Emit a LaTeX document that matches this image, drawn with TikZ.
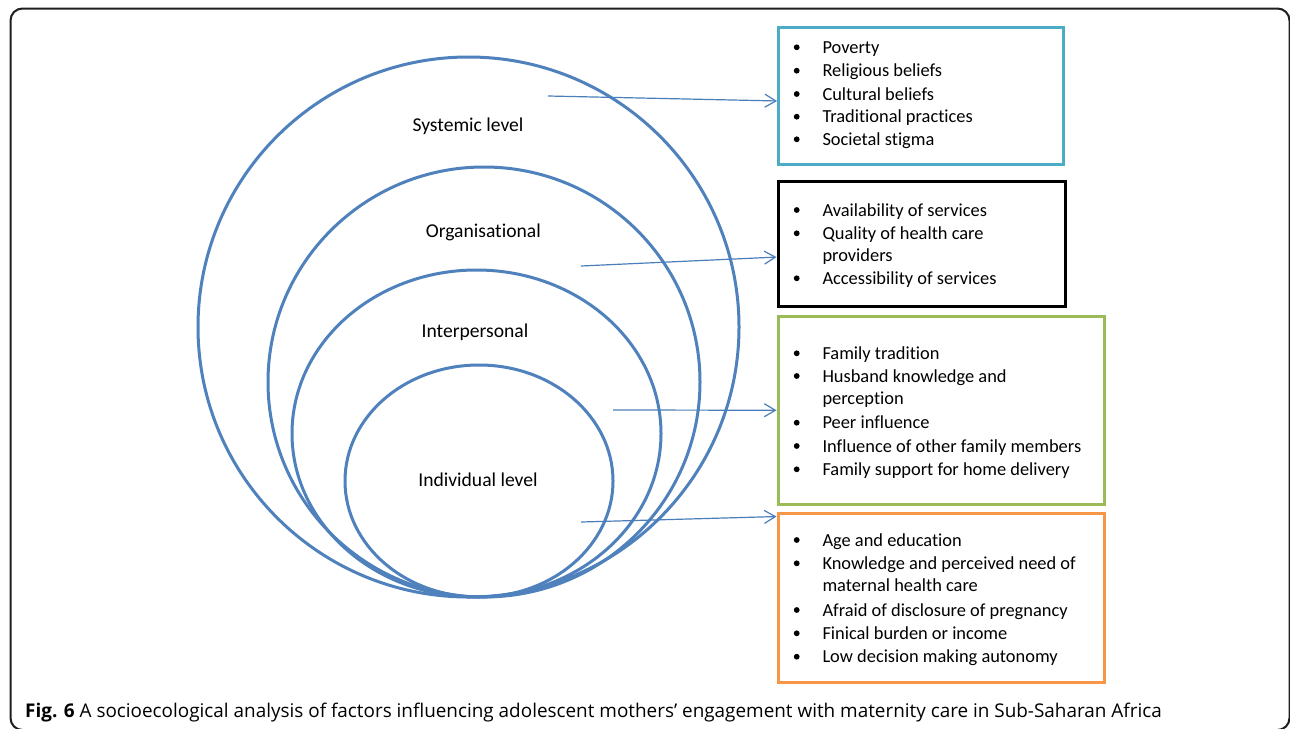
\documentclass[tikz,border=0pt]{standalone}
\usepackage{fontspec}
\setmainfont{Carlito}[Ligatures=NoCommon]
\newfontfamily\capfont{Open Sans}
\usetikzlibrary{arrows.meta}
\definecolor{ringblue}{HTML}{4F81BD}
\definecolor{arrblue}{HTML}{4A7EBB}
\definecolor{cyanbox}{HTML}{4BACC6}
\definecolor{greenbox}{HTML}{9BBB59}
\definecolor{orangebox}{HTML}{F79646}
\definecolor{framegray}{HTML}{1E1E1E}
\tikzset{
  frameline/.style={draw=framegray, line width=2pt, rounded corners=12pt},
  ring/.style={draw=ringblue, line width=3pt},
  lvl/.style={inner sep=0, anchor=base, font=\fontsize{19.6}{23}\selectfont},
  boxnode/.style={rectangle, line width=3pt, inner sep=0, outer sep=0, anchor=north west},
  itemtext/.style={inner sep=0, anchor=base west, font=\fontsize{18.4}{22}\selectfont},
  bul/.style={fill=black},
  arr/.style={draw=arrblue, line width=1.2pt, -{Straight Barb[length=11pt,width=13pt,line width=1.2pt]}, shorten >=1.5pt},
}
\begin{document}
\begin{tikzpicture}[x=1pt,y=-1pt]
\useasboundingbox (0,0) rectangle (1290,728);
\clip (0,0) rectangle (1290,728);
\fill[white] (0,0) rectangle (1290,728);
\draw[frameline] (10.5,8.5) rectangle (1289.5,730);

% rings
\draw[ring] (468.5,327) ellipse [x radius=270.5, y radius=270];
\draw[ring] (484,382) ellipse [x radius=216, y radius=215];
\draw[ring] (476.5,433.5) ellipse [x radius=184.5, y radius=163.5];
\draw[ring] (479,481) ellipse [x radius=134, y radius=116];

% level labels
\node[lvl] (lsys) at (468,131.7) {Systemic level};
\node[lvl] (lorg) at (483.3,237.3) {Organisational};
\node[lvl] (lint) at (475,337.3) {Interpersonal};
\node[lvl] (lind) at (478,486) {Individual level};

% boxes
\node[boxnode, draw=cyanbox, minimum width=284.5pt, minimum height=136.5pt] (b1) at (778.5,27.5) {};
\node[boxnode, draw=black, minimum width=287.5pt, minimum height=125pt] (b2) at (778,181.3) {};
\node[boxnode, draw=greenbox, minimum width=326.5pt, minimum height=188.5pt] (b3) at (778,316) {};
\node[boxnode, draw=orangebox, minimum width=326.5pt, minimum height=168.6pt] (b4) at (778,513.7) {};

% box 1 items
\node[itemtext] (t11) at (822.3,53.3) {Poverty};
\node[itemtext] (t12) at (822.3,76.7) {Religious beliefs};
\node[itemtext] (t13) at (822.3,100) {Cultural beliefs};
\node[itemtext] (t14) at (822.3,122.7) {Traditional practices};
\node[itemtext] (t15) at (822.3,145.3) {Societal stigma};
\foreach \y in {53.3,76.7,100,122.7,145.3} \fill[bul] (796.7,\y-6) circle (2.9pt);

% box 2 items
\node[itemtext] (t21) at (822.3,216) {Availability of services};
\node[itemtext] (t22) at (822.3,239.3) {Quality of health care};
\node[itemtext] (t22b) at (822.3,261.3) {providers};
\node[itemtext] (t23) at (822.3,284.3) {Accessibility of services};
\foreach \y in {216,239.3,284.3} \fill[bul] (796.7,\y-6) circle (2.9pt);

% box 3 items
\node[itemtext] (t31) at (822.3,359.3) {Family tradition};
\node[itemtext] (t32) at (822.3,382) {Husband knowledge and};
\node[itemtext] (t32b) at (822.3,404.7) {perception};
\node[itemtext] (t33) at (822.3,428.7) {Peer influence};
\node[itemtext] (t34) at (822.3,452) {Influence of other family members};
\node[itemtext] (t35) at (822.3,475.3) {Family support for home delivery};
\foreach \y in {359.3,382,428.7,452,475.3} \fill[bul] (796.7,\y-6) circle (2.9pt);

% box 4 items
\node[itemtext] (t41) at (822.3,546) {Age and education};
\node[itemtext] (t42) at (822.3,569.3) {Knowledge and perceived need of};
\node[itemtext] (t42b) at (822.3,591.7) {maternal health care};
\node[itemtext] (t43) at (822.3,616) {Afraid of disclosure of pregnancy};
\node[itemtext] (t44) at (822.3,639.3) {Finical burden or income};
\node[itemtext] (t45) at (822.3,662.7) {Low decision making autonomy};
\foreach \y in {546,569.3,616,639.3,662.7} \fill[bul] (796.7,\y-6) circle (2.9pt);

% arrows
\coordinate (s1) at (548,96);
\coordinate (s2) at (581,266);
\coordinate (s3) at (613,410);
\coordinate (s4) at (581,522);
\draw[arr] (s1) -- ([yshift=-5.25pt]b1.west);
\draw[arr] (s2) -- ([yshift=-13.2pt]b2.west);
\draw[arr] (s3) -- (b3.west);
\draw[arr] (s4) -- ([yshift=-2.8pt]b4.north west);

% caption
\node[inner sep=0, anchor=base west, font=\capfont\fontsize{18.9}{22}\selectfont] (cap) at (25,717) {\textbf{Fig. 6} A socioecological analysis of factors influencing adolescent mothers’ engagement with maternity care in Sub-Saharan Africa};
\end{tikzpicture}
\end{document}
